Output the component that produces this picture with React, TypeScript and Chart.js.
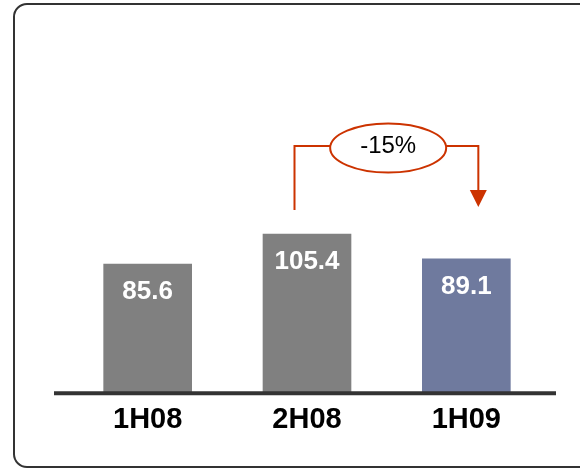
import React, { useEffect, useRef } from "react";
import { Chart, registerables } from "chart.js";

Chart.register(...registerables);

const periods = ["1H08", "2H08", "1H09"];
const values = [85.6, 105.4, 89.1];
const barColors = ["#808080", "#808080", "#6F7A9E"];
const changeLabel = "-15%";

const FONT = '"Liberation Sans", Arial, sans-serif';
const ACCENT = "#CC3300";

// Value labels in white, sitting just inside the top of each bar
const valueLabels = {
  id: "valueLabels",
  afterDatasetsDraw(chart: any) {
    const ctx = chart.ctx;
    const meta = chart.getDatasetMeta(0);
    ctx.save();
    ctx.fillStyle = "#ffffff";
    ctx.font = `bold 26px ${FONT}`;
    ctx.textAlign = "center";
    ctx.textBaseline = "middle";
    meta.data.forEach((bar: any, i: number) => {
      ctx.fillText(values[i].toFixed(1), bar.x, bar.y + 28);
    });
    ctx.restore();
  },
};

// Thick baseline under the bars, a bit wider than the plot area
const baseline = {
  id: "baseline",
  afterDatasetsDraw(chart: any) {
    const ctx = chart.ctx;
    const y = chart.scales.y.getPixelForValue(0);
    const { left, right } = chart.chartArea;
    ctx.save();
    ctx.strokeStyle = "#333333";
    ctx.lineWidth = 4;
    ctx.beginPath();
    ctx.moveTo(left - 14, y);
    ctx.lineTo(right + 10, y);
    ctx.stroke();
    ctx.restore();
  },
};

// Bracket from 2H08 to 1H09 with the change in an ellipse
const changeBracket = {
  id: "changeBracket",
  afterDraw(chart: any) {
    const ctx = chart.ctx;
    const meta = chart.getDatasetMeta(0);
    const from = meta.data[1];
    const to = meta.data[2];
    const x1 = from.x - 12.5;
    const x2 = to.x + 12;
    const yTop = 146;
    const cx = (from.x + to.x) / 2 + 1.5;
    const cy = 148;
    const rx = 58;
    const ry = 24.5;
    ctx.save();
    ctx.strokeStyle = ACCENT;
    ctx.fillStyle = ACCENT;
    ctx.lineWidth = 2;
    ctx.beginPath();
    ctx.moveTo(x1, 210);
    ctx.lineTo(x1, yTop);
    ctx.lineTo(cx - rx, yTop);
    ctx.moveTo(cx + rx, yTop);
    ctx.lineTo(x2, yTop);
    ctx.lineTo(x2, 191);
    ctx.stroke();
    ctx.beginPath();
    ctx.moveTo(x2 - 8.5, 190);
    ctx.lineTo(x2 + 8.5, 190);
    ctx.lineTo(x2, 207);
    ctx.closePath();
    ctx.fill();
    ctx.beginPath();
    ctx.ellipse(cx, cy, rx, ry, 0, 0, Math.PI * 2);
    ctx.fillStyle = "#ffffff";
    ctx.fill();
    ctx.stroke();
    ctx.fillStyle = "#000000";
    ctx.font = `24px ${FONT}`;
    ctx.textAlign = "center";
    ctx.textBaseline = "middle";
    ctx.fillText(changeLabel, cx, 146);
    ctx.restore();
  },
};

export default function App() {
  const canvasRef = useRef<HTMLCanvasElement | null>(null);

  useEffect(() => {
    if (!canvasRef.current) return;
    const chart = new Chart(canvasRef.current, {
      type: "bar",
      data: {
        labels: periods,
        datasets: [
          {
            data: values,
            backgroundColor: barColors,
            borderWidth: 0,
            barThickness: 88,
          },
        ],
      },
      options: {
        animation: false,
        responsive: false,
        maintainAspectRatio: false,
        layout: { padding: { left: 68, right: 34, top: 31, bottom: 31 } },
        plugins: {
          legend: { display: false },
          tooltip: { enabled: false },
        },
        scales: {
          x: {
            grid: { display: false },
            border: { display: false },
            ticks: {
              color: "#000000",
              padding: 1,
              font: { family: FONT, size: 29, weight: "bold" },
            },
          },
          y: {
            display: false,
            min: 0,
            max: 240,
          },
        },
      },
      plugins: [baseline, valueLabels, changeBracket],
    });
    return () => chart.destroy();
  }, []);

  return (
    <div style={{ position: "fixed", left: 0, top: 0, width: 580, height: 469, background: "#ffffff", overflow: "hidden" }}>
      <div
        style={{
          position: "absolute",
          left: 13,
          top: 3,
          width: 620,
          height: 465,
          border: "2.5px solid #333333",
          borderRadius: 14,
          boxSizing: "border-box",
        }}
      />
      <canvas ref={canvasRef} width={580} height={469} style={{ position: "absolute", left: 0, top: 0 }} />
    </div>
  );
}
